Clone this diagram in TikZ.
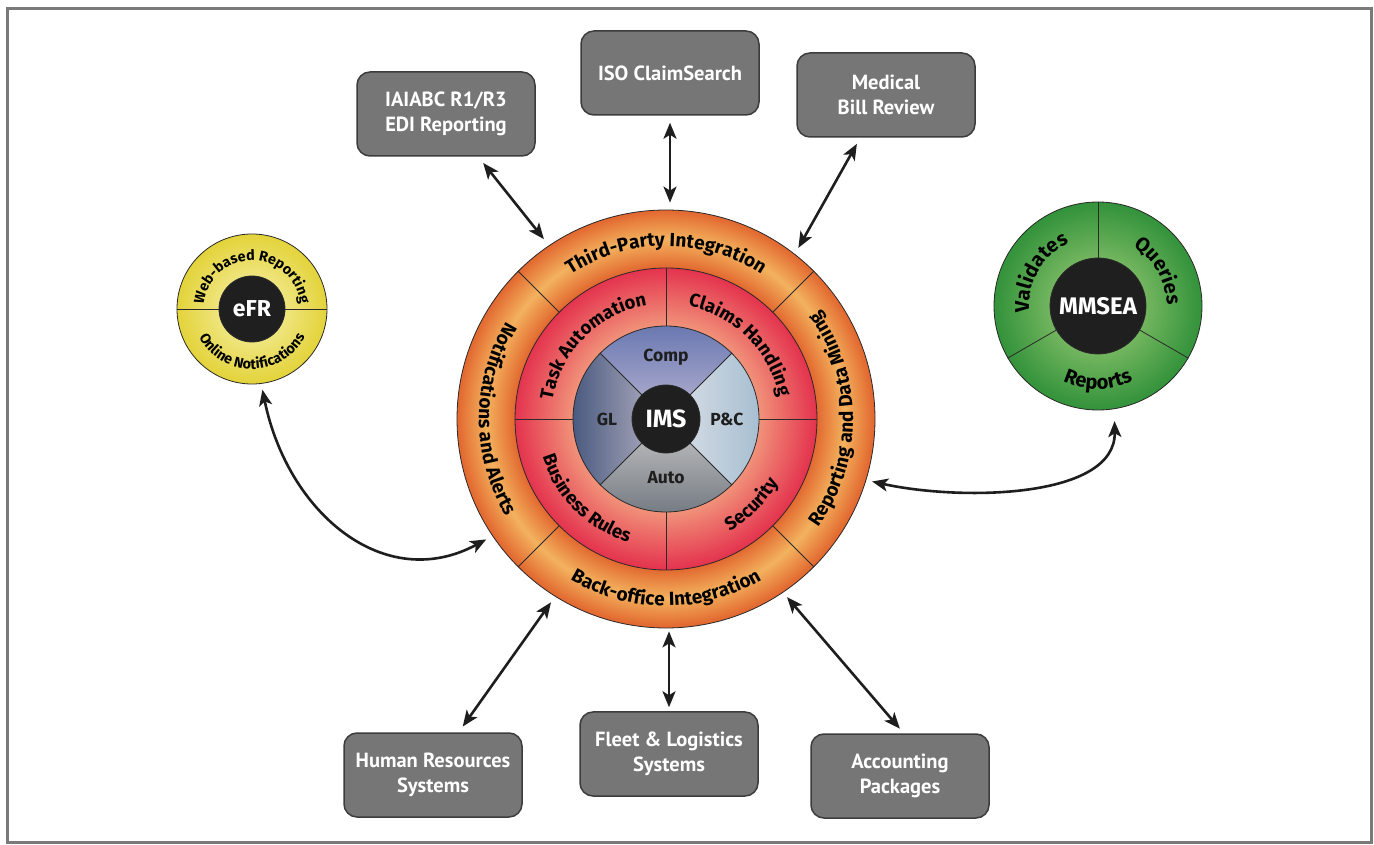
\documentclass[tikz,border=0pt]{standalone}
\usepackage{fontspec}
\setmainfont{PT Sans}
\newfontfamily\heavy{Fira Sans}
\newfontfamily\boxfam{PT Sans}
\usetikzlibrary{arrows.meta,decorations.text}
\definecolor{framec}{HTML}{7A7A7A}
\definecolor{boxgray}{HTML}{767676}
\definecolor{boxline}{HTML}{3C3C3C}
\definecolor{arrowc}{HTML}{1E1E1E}
\definecolor{linec}{HTML}{2A2A2A}
\definecolor{txtc}{HTML}{1E1E1E}
\definecolor{orDark}{HTML}{E2672F}
\definecolor{orLight}{HTML}{F3B25E}
\definecolor{rdDark}{HTML}{E4334E}
\definecolor{rdLight}{HTML}{F1937A}
\definecolor{compTop}{HTML}{6373AE}
\definecolor{compBot}{HTML}{B8B4D2}
\definecolor{glLeft}{HTML}{3F5179}
\definecolor{glRight}{HTML}{BAB6C6}
\definecolor{pcLeft}{HTML}{DDE1E7}
\definecolor{pcRight}{HTML}{A2BCD0}
\definecolor{autoTop}{HTML}{C6C6C6}
\definecolor{autoBot}{HTML}{6E757D}
\definecolor{discblack}{HTML}{1F1F1F}
\definecolor{ylIn}{HTML}{F8F3B4}
\definecolor{ylOut}{HTML}{E3D33A}
\definecolor{grIn}{HTML}{AAD47E}
\definecolor{grOut}{HTML}{32923A}
\newcommand\ringfont{\fontsize{19}{23}\selectfont\heavy\bfseries}
\newcommand\innerfont{\fontsize{18.5}{23}\selectfont\heavy\bfseries}
\newcommand\efrfont{\fontsize{14.3}{17}\selectfont\heavy\bfseries}
\newcommand\mmfont{\fontsize{20}{24}\selectfont\heavy\bfseries}
\begin{document}
\begin{tikzpicture}[x=1pt,y=1pt,
  box/.style={rectangle, rounded corners=13pt, fill=boxgray, draw=boxline, line width=1.5pt,
    minimum width=178pt, minimum height=84pt, text=white, align=center, inner sep=0pt,
    font=\fontsize{20.5}{24.5}\selectfont\boxfam\bfseries},
  biarrow/.style={{Stealth[length=16pt,width=13pt,inset=4pt]}-{Stealth[length=16pt,width=13pt,inset=4pt]},
    line width=2.6pt, draw=arrowc},
  disc/.style={circle, inner sep=0pt, draw=linec, line width=0.8pt},
  divider/.style={draw=linec, line width=0.8pt},
  lbl/.style={font=\fontsize{17.5}{20}\selectfont\heavy\bfseries, text=txtc},
  arctext/.style={decorate, decoration={text along path, text align=center, text={#1}}}
]
\useasboundingbox (0,0) rectangle (1374,844);
\fill[white] (0,0) rectangle (1374,844);
\draw[framec, line width=3pt] (7.5,1.5) rectangle (1371,835.5);

% ---- central wheel fills ----
\foreach \r in {209,208,...,152}{
  \pgfmathtruncatemacro\t{100*abs(\r-180)/29}
  \fill[orDark!\t!orLight] (666,425) circle[radius=\r pt];
}
\foreach \r in {151,150,...,94}{
  \pgfmathtruncatemacro\t{100*(\r-93)/58}
  \fill[rdDark!\t!rdLight] (666,425) circle[radius=\r pt];
}
\begin{scope}[shift={(666,425)}]
  \shade[top color=compTop, bottom color=compBot] (0,0) -- (45:93pt) arc[start angle=45,end angle=135,radius=93pt] -- cycle;
  \shade[left color=glLeft, right color=glRight] (0,0) -- (135:93pt) arc[start angle=135,end angle=225,radius=93pt] -- cycle;
  \shade[left color=pcLeft, right color=pcRight] (0,0) -- (-45:93pt) arc[start angle=-45,end angle=45,radius=93pt] -- cycle;
  \shade[top color=autoTop, bottom color=autoBot] (0,0) -- (225:93pt) arc[start angle=225,end angle=315,radius=93pt] -- cycle;
\end{scope}

\node[disc, minimum size=418pt] (wheel) at (666,425) {};
\node[disc, minimum size=302pt] (redring) at (666,425) {};
\node[disc, minimum size=186pt] (gray) at (666,425) {};

\foreach \a in {45,135,225,315}{
  \draw[divider] (redring.\a) -- (wheel.\a);
  \draw[divider] (gray.center) -- (gray.\a);
}
\foreach \a in {0,90,180,270}{
  \draw[divider] (gray.\a) -- (redring.\a);
}
\node[disc, fill=discblack, minimum size=68pt, text=white, font=\fontsize{25}{28}\selectfont\heavy\bfseries] (ims) at (666,425) {IMS};

\node[lbl] (comp) at (666,487) {Comp};
\node[lbl] (gl) at (607,425) {GL};
\node[lbl] (pc) at (727,425) {P\&C};
\node[lbl] (auto) at (666,366) {Auto};

\begin{scope}[shift={(666,425)}]
  \path[arctext={|\ringfont|Third-Party Integration}] (135:173pt) arc[start angle=135,end angle=45,radius=173pt];
  \path[arctext={|\ringfont|Reporting and Data Mining}] (-45:187pt) arc[start angle=-45,end angle=45,radius=187pt];
  \path[arctext={|\ringfont|Back-office Integration}] (225:187pt) arc[start angle=225,end angle=315,radius=187pt];
  \path[arctext={|\ringfont|Notifications and Alerts}] (135:187pt) arc[start angle=135,end angle=225,radius=187pt];
  \path[arctext={|\innerfont|Task Automation}] (180:115pt) arc[start angle=180,end angle=90,radius=115pt];
  \path[arctext={|\innerfont|Claims Handling}] (90:115pt) arc[start angle=90,end angle=0,radius=115pt];
  \path[arctext={|\innerfont|Business Rules}] (180:129pt) arc[start angle=180,end angle=270,radius=129pt];
  \path[arctext={|\innerfont|Security}] (270:129pt) arc[start angle=270,end angle=360,radius=129pt];
\end{scope}

% ---- eFR disc ----
\node[disc, shade, inner color=ylIn, outer color=ylOut, minimum size=150pt] (efr) at (252,535) {};
\node[disc, fill=discblack, minimum size=66pt, text=white, font=\fontsize{23}{26}\selectfont\heavy\bfseries] (efrc) at (252,535) {eFR};
\draw[divider] (efr.west) -- (efrc.west);
\draw[divider] (efrc.east) -- (efr.east);
\begin{scope}[shift={(252,535)}]
  \path[arctext={|\efrfont|Web-based Reporting}] (186:48.5pt) arc[start angle=186,end angle=-6,radius=48.5pt];
  \path[arctext={|\efrfont|Online Notifications}] (174:60pt) arc[start angle=174,end angle=366,radius=60pt];
\end{scope}

% ---- MMSEA disc ----
\node[disc, shade, inner color=grIn, outer color=grOut, minimum size=208pt] (mm) at (1098,538) {};
\node[disc, fill=discblack, minimum size=96pt, text=white, font=\fontsize{24}{28}\selectfont\heavy\bfseries] (mmc) at (1098,538) {MMSEA};
\foreach \a in {90,210,330}{
  \draw[divider] (mmc.\a) -- (mm.\a);
}
\begin{scope}[shift={(1098,538)}]
  \path[arctext={|\mmfont|Validates}] (210:69pt) arc[start angle=210,end angle=90,radius=69pt];
  \path[arctext={|\mmfont|Queries}] (90:69pt) arc[start angle=90,end angle=-30,radius=69pt];
  \path[arctext={|\mmfont|Reports}] (210:83pt) arc[start angle=210,end angle=330,radius=83pt];
\end{scope}

% ---- boxes ----
\node[box] (iaiabc) at (446,730) {IAIABC R1/R3\\EDI Reporting};
\node[box] (iso) at (670,771) {ISO ClaimSearch};
\node[box] (medical) at (886,749) {Medical\\Bill Review};
\node[box] (hr) at (433,69) {Human Resources\\Systems};
\node[box] (fleet) at (669,90) {Fleet \& Logistics\\Systems};
\node[box] (acct) at (900,68) {Accounting\\Packages};

% ---- connectors ----
\draw[biarrow, shorten <=8pt, shorten >=8pt] (iaiabc.-53.6) -- (wheel.124.5);
\draw[biarrow, shorten <=7pt, shorten >=7pt] (iso.south) -- (iso.south |- wheel.north);
\draw[biarrow, shorten <=7pt, shorten >=7pt] (medical.-121.8) -- (wheel.52.5);
\draw[biarrow, shorten <=7pt, shorten >=7pt] (hr.59.2) -- (wheel.238.8);
\draw[biarrow, shorten <=4pt, shorten >=3pt] (fleet.north) -- (fleet.north |- wheel.south);
\draw[biarrow, shorten <=6pt, shorten >=6pt] (acct.85.9) -- (wheel.304.2);
\draw[biarrow, shorten <=6pt, shorten >=7pt] (efr.277.7) .. controls (288,330) and (385,250) .. (wheel.214.6);
\draw[biarrow, shorten <=6pt, shorten >=12pt] (wheel.-17) .. controls (960,343) and (1116,345) .. (mm.279.3);
\end{tikzpicture}
\end{document}
